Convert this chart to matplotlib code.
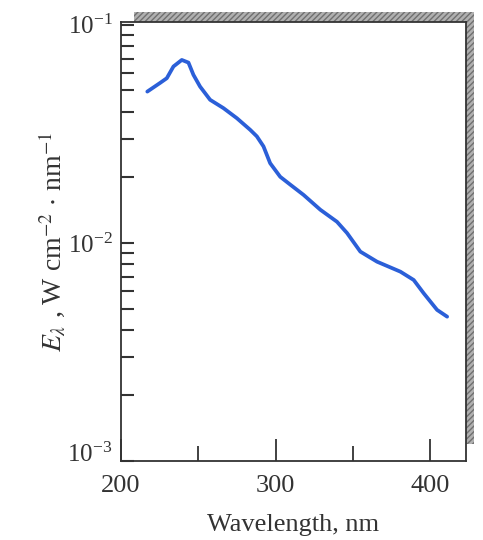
import matplotlib.pyplot as plt
import matplotlib.ticker as mticker
import matplotlib.transforms as mtransforms
from matplotlib.patches import Rectangle
import numpy as np

plt.rcParams['font.family'] = ['Liberation Serif', 'DejaVu Serif']
plt.rcParams['mathtext.fontset'] = 'stix'

# spectral irradiance
wavelength = [217.0, 225.2, 229.6, 233.9, 239.3, 243.6, 246.8, 251.1, 257.6, 266.2,
              274.9, 283.5, 287.8, 292.1, 296.4, 302.9, 309.4, 318.0, 328.8, 339.6,
              346.1, 354.7, 365.5, 380.6, 389.2, 395.7, 404.3, 410.8]
irradiance = [0.0494, 0.0541, 0.0569, 0.0644, 0.0690, 0.0671, 0.0590, 0.0521, 0.0453,
              0.0415, 0.0373, 0.0330, 0.0308, 0.0277, 0.0232, 0.0201, 0.0185, 0.0166,
              0.0142, 0.0125, 0.0111, 0.00912, 0.00820, 0.00738, 0.00676, 0.00587,
              0.00493, 0.00459]

fig = plt.figure(figsize=(4.83, 5.4), dpi=100)
fig.patch.set_facecolor('white')

# hatched drop shadow behind the frame
shadow = Rectangle((134 / 483, 96 / 540), 340 / 483, 432 / 540,
                   transform=fig.transFigure, facecolor='#b0b0b0',
                   edgecolor='#707070', hatch='//////', linewidth=0, zorder=0)
fig.patches.append(shadow)

ax = fig.add_axes([121 / 483, 79 / 540, 345 / 483, 439 / 540])
ax.set_facecolor('white')
ax.set_zorder(1)

ax.semilogy(wavelength, irradiance, color='#2b5fd8', linewidth=2.7,
            solid_capstyle='round', solid_joinstyle='round')

ax.set_xlim(200, 423)
ax.set_ylim(1e-3, 1.03e-1)

ax.set_xticks([200, 300, 400])
ax.set_xticks([250, 350], minor=True)
ax.yaxis.set_major_locator(mticker.LogLocator(base=10))
ax.yaxis.set_minor_locator(mticker.LogLocator(base=10, subs=np.arange(2, 10)))
ax.yaxis.set_minor_formatter(mticker.NullFormatter())
ax.yaxis.set_major_formatter(mticker.LogFormatterMathtext())

ax.tick_params(axis='x', which='major', direction='in', length=16, width=1.3,
               labelsize=19, pad=10, color='#333333', labelcolor='#333333')
ax.tick_params(axis='x', which='minor', direction='in', length=11, width=1.3,
               color='#333333')
ax.tick_params(axis='y', which='both', direction='in', length=9, width=1.5,
               labelsize=18, pad=6, color='#333333', labelcolor='#333333')

# the lowest decade label sits a little above the corner
fig.canvas.draw()
lift = mtransforms.ScaledTranslation(0, 6 / 72, fig.dpi_scale_trans)
for lbl in ax.get_yticklabels():
    if lbl.get_position()[1] == 1e-3:
        lbl.set_transform(lbl.get_transform() + lift)

for side in ax.spines.values():
    side.set_linewidth(1.3)
    side.set_color('#333333')

ax.set_xlabel('Wavelength, nm', fontsize=19, color='#333333', labelpad=12)
ax.set_ylabel(r'$E_{\lambda}$ , W cm$^{-2}$ $\cdot$ nm$^{-1}$', fontsize=20,
              color='#333333', labelpad=0)

fig.savefig('out.png', dpi=100, facecolor='white')
